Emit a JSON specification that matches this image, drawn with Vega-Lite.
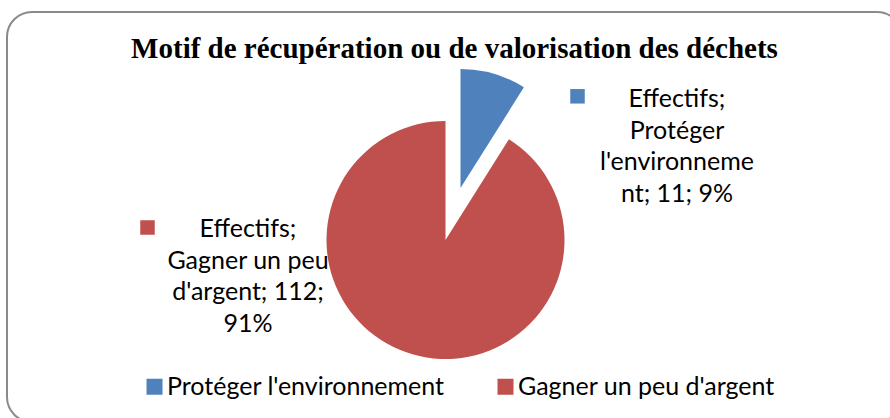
{
  "$schema": "https://vega.github.io/schema/vega-lite/v6.json",
  "width": 895,
  "height": 410,
  "autosize": {"type": "none"},
  "padding": {"left": 7, "top": 12, "right": -12, "bottom": -4},
  "background": "white",
  "config": {
    "view": {"stroke": null},
    "font": "Lato",
    "legend": {
      "orient": "none",
      "legendX": 135,
      "legendY": 362,
      "direction": "horizontal",
      "columns": 2,
      "symbolType": "square",
      "symbolSize": 256,
      "symbolStrokeWidth": 0,
      "labelFont": "Lato",
      "labelFontSize": 25,
      "labelColor": "#000000",
      "labelOffset": 0,
      "columnPadding": 48,
      "padding": 0,
      "labelLimit": 400
    }
  },
  "title": {
    "text": "Motif de récupération ou de valorisation des déchets",
    "font": "Liberation Serif",
    "fontSize": 29,
    "fontWeight": "bold",
    "color": "#000000",
    "baseline": "alphabetic",
    "offset": -46,
    "dy": 30
  },
  "data": {
    "values": [
      {"cat": "Protéger l'environnement", "n": 11, "label": "Effectifs;|Protéger|l'environneme|nt; 11; 9%"},
      {"cat": "Gagner un peu d'argent", "n": 112, "label": "Effectifs;|Gagner un peu|d'argent; 112;|91%"}
    ]
  },
  "transform": [
    {"stack": "n", "groupby": [], "sort": [{"field": "n", "order": "ascending"}], "as": ["s0", "s1"]}
  ],
  "layer": [
    {
      "transform": [{"filter": {"field": "cat", "equal": "Gagner un peu d'argent"}}],
      "mark": {"type": "rect", "fill": "transparent", "stroke": "#8a8a8a", "strokeWidth": 2, "cornerRadius": 25},
      "encoding": {}
    },
    {
      "transform": [{"filter": {"field": "cat", "equal": "Gagner un peu d'argent"}}],
      "mark": {"type": "arc", "outerRadius": 119, "xOffset": -9, "yOffset": 23},
      "encoding": {
        "theta": {"field": "s0", "type": "quantitative", "scale": {"domain": [0, 123]}},
        "theta2": {"field": "s1"},
        "color": {
          "field": "cat",
          "type": "nominal",
          "title": null,
          "scale": {"domain": ["Protéger l'environnement", "Gagner un peu d'argent"], "range": ["#4F81BD", "#C0504D"]}
        }
      }
    },
    {
      "transform": [{"filter": {"field": "cat", "equal": "Protéger l'environnement"}}],
      "mark": {"type": "arc", "outerRadius": 119, "xOffset": 6, "yOffset": -29},
      "encoding": {
        "theta": {"field": "s0", "type": "quantitative", "scale": {"domain": [0, 123]}},
        "theta2": {"field": "s1"},
        "color": {
          "field": "cat",
          "type": "nominal",
          "title": null,
          "scale": {"domain": ["Protéger l'environnement", "Gagner un peu d'argent"], "range": ["#4F81BD", "#C0504D"]}
        }
      }
    },
    {
      "transform": [{"filter": {"field": "cat", "equal": "Protéger l'environnement"}}],
      "mark": {"type": "text", "radius": 119, "xOffset": 6, "yOffset": -29, "dx": 216.5, "dy": 38, "lineBreak": "|", "lineHeight": 31.7, "fontSize": 25, "font": "Lato", "align": "center", "baseline": "alphabetic", "color": "#000000"},
      "encoding": {
        "theta": {"field": "s0", "type": "quantitative", "scale": {"domain": [0, 123]}},
        "text": {"field": "label"}
      }
    },
    {
      "transform": [{"filter": {"field": "cat", "equal": "Gagner un peu d'argent"}}],
      "mark": {"type": "text", "radius": 119, "xOffset": -9, "yOffset": 23, "dx": -260.9, "dy": 97.7, "lineBreak": "|", "lineHeight": 31.7, "fontSize": 25, "font": "Lato", "align": "center", "baseline": "alphabetic", "color": "#000000"},
      "encoding": {
        "theta": {"field": "s0", "type": "quantitative", "scale": {"domain": [0, 123]}},
        "text": {"field": "label"}
      }
    },
    {
      "transform": [{"filter": {"field": "cat", "equal": "Protéger l'environnement"}}],
      "mark": {"type": "point", "shape": "square", "size": 210, "filled": true, "opacity": 1, "xOffset": 123, "yOffset": -120.7},
      "encoding": {
        "color": {"field": "cat", "type": "nominal", "title": null}
      }
    },
    {
      "transform": [{"filter": {"field": "cat", "equal": "Gagner un peu d'argent"}}],
      "mark": {"type": "point", "shape": "square", "size": 210, "filled": true, "opacity": 1, "xOffset": -307, "yOffset": 10.5},
      "encoding": {
        "color": {"field": "cat", "type": "nominal", "title": null}
      }
    }
  ]
}
